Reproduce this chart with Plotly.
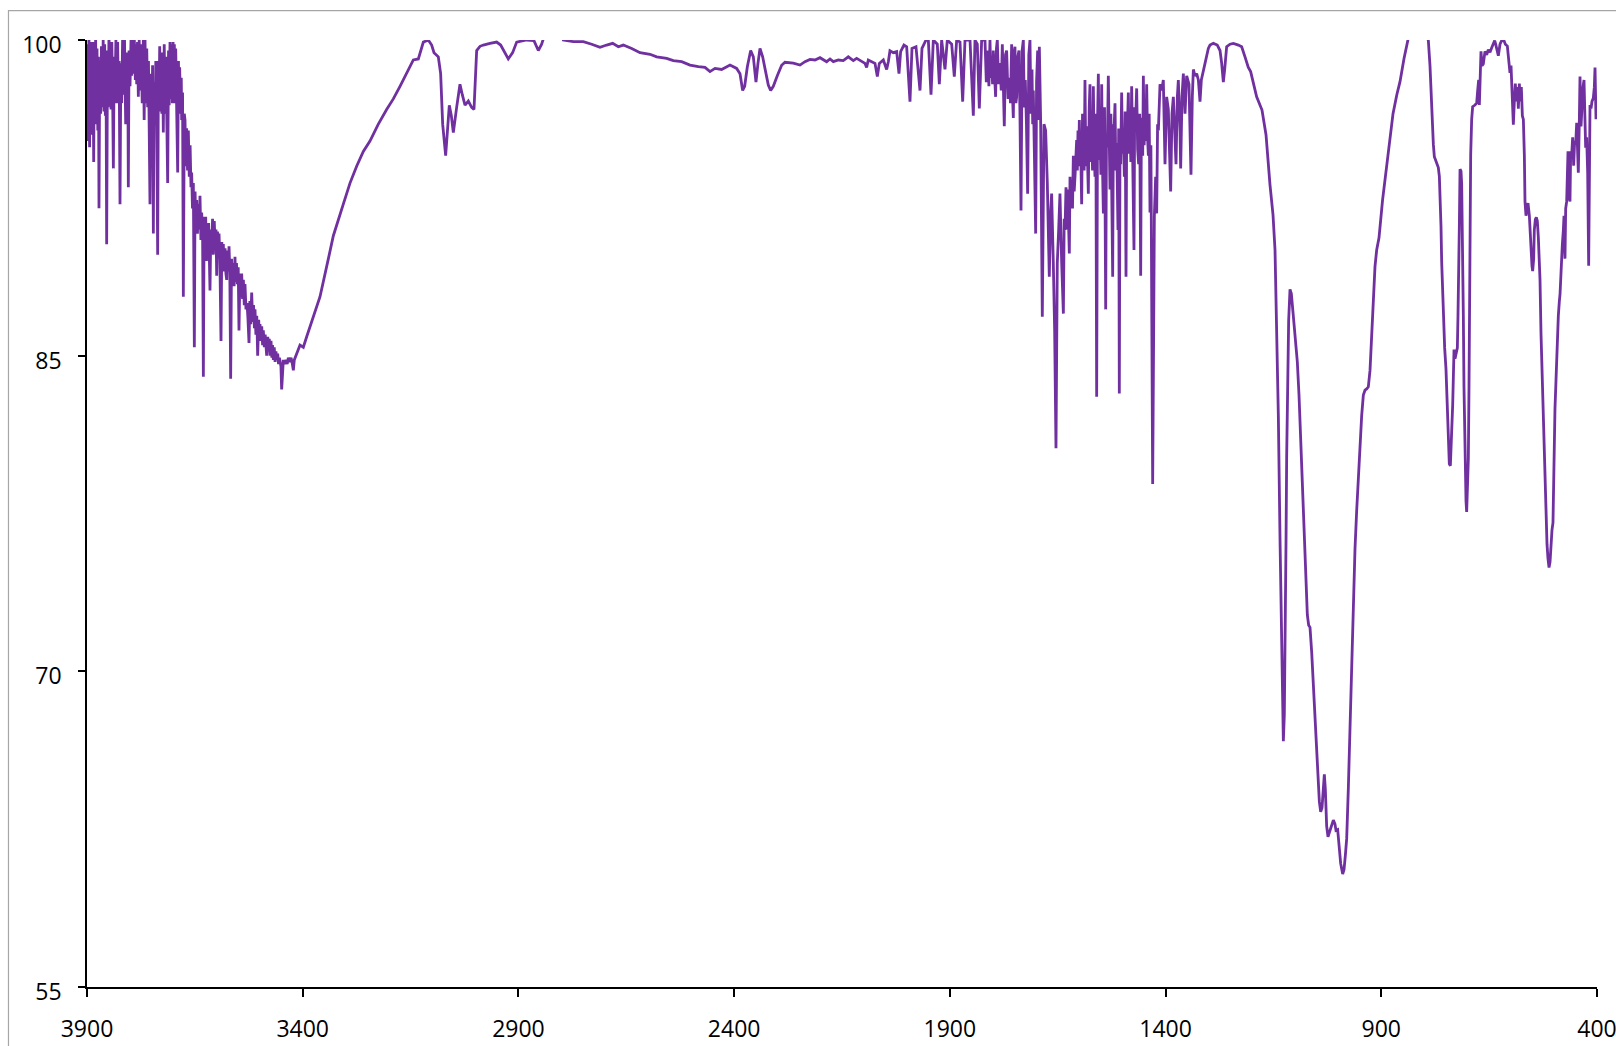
import plotly.graph_objects as go

# IR transmission spectrum, (wavenumber cm-1, transmittance %) pairs by region

# O-H stretch region, noisy band
oh_region = [
    (3900, 96.0), (3898.5, 99.8), (3897, 95.2), (3895.5, 100.2), (3894, 94.9), (3892.5, 99.5),
    (3891, 95.8), (3889.5, 99.9), (3888, 95.5), (3886, 99.2), (3884.5, 94.2), (3883, 99.9),
    (3881.4, 96.0), (3880, 100.1), (3878.5, 96.3), (3876.8, 99.6), (3875, 95.7), (3873.5, 99.2),
    (3872.2, 92.0), (3870.5, 99.0), (3868.3, 96.5), (3866.5, 99.7), (3864.4, 96.8), (3862.5, 100.0),
    (3860.6, 96.6), (3859, 99.8), (3857.5, 96.4), (3856, 99.3), (3854.4, 90.3), (3852.5, 99.5),
    (3851, 96.8), (3849, 100.3), (3847, 96.9), (3845.5, 99.6), (3844.3, 96.7), (3842.5, 99.9),
    (3840.5, 97.2), (3838.9, 93.9), (3837, 99.2), (3835.1, 97.5), (3833, 100.0), (3831.2, 97.0),
    (3829, 99.9), (3827.3, 97.3), (3825.5, 99.0), (3823.5, 92.2), (3821.5, 98.9), (3819.6, 97.0),
    (3817.5, 100.0), (3815, 97.4), (3813, 100.0), (3810.3, 96.0), (3808.8, 99.4), (3807.3, 97.4),
    (3805.5, 99.0), (3804.2, 93.0), (3802.5, 99.5), (3800.3, 97.8), (3798, 100.0), (3796.5, 98.3),
    (3794.9, 100.0), (3792.5, 98.4), (3790.3, 100.0), (3788, 98.1), (3786.5, 99.8), (3784.8, 97.9),
    (3783, 99.9), (3781, 97.3), (3779, 100.0), (3777, 97.6), (3774.8, 99.8), (3772, 97.0),
    (3769.4, 100.0), (3767.5, 96.2), (3765.5, 100.0), (3763.5, 97.0), (3761.5, 99.6), (3759.4, 96.8),
    (3757.5, 99.0), (3756, 96.5), (3754, 92.2), (3752, 98.4), (3750.1, 95.7), (3748, 98.8),
    (3746.2, 90.8), (3744.5, 98.0), (3742.4, 96.0), (3740.5, 99.0), (3738.5, 96.2), (3736.2, 89.8),
    (3734.5, 99.0), (3733.1, 96.8), (3731.5, 99.7), (3730, 96.6), (3728.4, 99.0), (3726.5, 96.5),
    (3725, 99.4), (3723.1, 95.6), (3721, 99.8), (3719.2, 96.5), (3717, 99.2), (3715, 96.2),
    (3713, 93.2), (3711, 99.5), (3709.5, 96.9), (3707.6, 99.9), (3706, 97.2), (3704, 99.8),
    (3702.2, 97.0), (3700.5, 99.9), (3699.1, 97.4), (3697.5, 99.8), (3696, 97.0), (3694.4, 99.6),
    (3692, 96.7), (3689.8, 93.7), (3688, 99.0), (3686.5, 96.9), (3685.2, 98.7), (3683, 96.5),
    (3681.5, 98.2), (3680.6, 96.2), (3678.5, 97.5), (3676.7, 87.8), (3674.5, 96.5), (3672.8, 96.2),
    (3671, 94.0), (3669, 95.8), (3667, 93.8), (3665.1, 95.7), (3663, 93.5), (3661, 95.0),
    (3659, 93.0), (3657.4, 93.7), (3655.5, 92.0), (3653.5, 93.2), (3651.2, 85.4), (3649.5, 92.8),
    (3647.5, 91.0), (3645.8, 92.4), (3644, 90.8), (3642, 92.2), (3640, 91.0), (3638.1, 92.6),
    (3636, 90.5), (3634.2, 91.8), (3632, 90.6), (3630.3, 84.0), (3628.5, 91.6), (3626.5, 90.0),
    (3624.9, 91.6), (3623, 89.5), (3621.5, 91.2), (3620.3, 90.2), (3618, 91.3), (3616.5, 89.4),
    (3614.9, 88.1), (3613, 91.0), (3611, 90.0), (3609, 91.5), (3607.1, 89.8), (3605, 91.4),
    (3603, 90.2), (3601, 91.0), (3599.4, 88.8), (3597.5, 90.9), (3596, 89.8), (3594, 90.8),
    (3592, 89.6), (3589.4, 85.7), (3587.5, 90.4), (3586, 89.3), (3584, 90.3), (3582, 89.0),
    (3580, 90.1), (3578, 88.9), (3576.2, 88.6), (3574.5, 90.0), (3572.5, 89.0), (3570.8, 90.2),
    (3569, 89.0), (3567, 83.9), (3565, 89.6), (3563, 88.6), (3560.8, 89.4), (3559, 88.3),
    (3557, 89.7), (3555.4, 88.5), (3553.5, 89.4), (3551.5, 88.4), (3549.5, 89.2), (3547.7, 86.2),
    (3545.5, 88.9), (3543.5, 87.8), (3541.5, 88.9), (3539.5, 87.7), (3537.5, 88.6), (3535.5, 87.4),
    (3533.8, 88.4), (3531.5, 87.2), (3529.1, 87.5), (3527, 86.8), (3524.5, 85.6), (3522.5, 87.6),
    (3520.5, 86.5), (3518.3, 88.0), (3516, 86.6), (3514, 87.4), (3512, 86.3), (3510.6, 87.2),
    (3508.5, 86.0), (3506.5, 86.9), (3504.4, 85.0), (3502, 86.7), (3500.5, 85.8), (3499, 86.5),
    (3497, 85.7), (3495, 86.4), (3493, 85.5), (3491.3, 86.2), (3489, 85.4), (3487, 86.0),
    (3485, 85.3), (3483.5, 85.0), (3481, 85.9), (3479, 85.2), (3477.5, 85.8), (3475.8, 85.0),
    (3473.5, 85.7), (3471.5, 84.9), (3470, 85.5), (3468.1, 84.8), (3466, 85.4), (3464, 84.7),
    (3462, 85.2), (3460.4, 84.8), (3458, 85.1), (3456, 84.6), (3454, 84.9), (3452.6, 84.7),
    (3450.5, 84.5), (3448.8, 83.4), (3446.5, 84.6), (3444.9, 84.8), (3442, 84.6), (3439, 84.8),
    (3436, 84.6), (3433.3, 84.9), (3430, 84.7), (3427, 84.9), (3424, 84.6), (3421.7, 84.3),
    (3419.5, 84.8), (3417.9, 84.9), (3414, 85.1), (3410, 85.3), (3406.3, 85.5),
]

# broad O-H shoulder and C-H stretches
ch_region = [
    (3398.6, 85.4), (3390.8, 85.9), (3375.4, 86.9), (3359.9, 87.8), (3340.6, 89.6),
    (3329, 90.7), (3305.9, 92.2), (3290.4, 93.2), (3275, 94.0), (3259.5, 94.7),
    (3244.1, 95.2), (3224.7, 96.0), (3205.5, 96.7), (3190, 97.2), (3174.5, 97.8),
    (3159.1, 98.4), (3143.6, 99.05), (3132, 99.1), (3120.4, 99.9), (3108.9, 100.0),
    (3101.1, 99.76), (3095.7, 99.4), (3085.7, 99.2), (3080.3, 98.4), (3075.6, 96.0),
    (3068.7, 94.5), (3064, 95.7), (3060.2, 96.9), (3055.5, 96.4), (3050.9, 95.6),
    (3043.2, 96.8), (3035.5, 97.9), (3030.1, 97.4), (3023.8, 96.9), (3016.1, 97.1),
    (3008.4, 96.8), (3003, 96.7), (2996.8, 99.5), (2989.1, 99.7), (2981.4, 99.76),
    (2965.9, 99.84), (2950.5, 99.9), (2941.2, 99.76), (2931.2, 99.4), (2923.5, 99.1),
    (2913.4, 99.4), (2904.1, 99.9), (2880.9, 100.0), (2864, 99.97), (2853.9, 99.5),
    (2846.2, 99.8), (2838.5, 100.3), (2834.6, 100.8), (2815, 101.5),
]

# quiet mid range with CO2 doublet
mid_region = [
    (2795.9, 100.0), (2772.7, 99.92), (2749.6, 99.92), (2730.2, 99.8), (2710.9, 99.65),
    (2695.5, 99.76), (2681.6, 99.84), (2668.4, 99.68), (2656.9, 99.76), (2637.5, 99.6),
    (2618.2, 99.4), (2595, 99.32), (2579.6, 99.2), (2556.4, 99.13), (2541, 99.02),
    (2521.6, 98.97), (2502.3, 98.81), (2483, 98.73), (2467.6, 98.7), (2456, 98.5),
    (2444.4, 98.65), (2429, 98.6), (2409.6, 98.81), (2394.2, 98.65), (2386.4, 98.4),
    (2380.3, 97.6), (2375.6, 97.8), (2369.4, 98.73), (2361.7, 99.5), (2355.5, 99.2),
    (2349.4, 98.0), (2344.7, 98.9), (2340.1, 99.6), (2333.9, 99.2), (2327, 98.4),
    (2320.8, 97.86), (2315.4, 97.6), (2309.2, 97.8), (2300, 98.3), (2289.9, 98.8),
    (2282.2, 98.94), (2262.8, 98.9), (2247.4, 98.81), (2235.8, 98.97), (2224.2, 99.08),
    (2212.6, 99.05), (2201, 99.16), (2193.3, 99.05), (2185.6, 98.97), (2177.8, 99.1),
    (2170.1, 98.97), (2158.5, 99.05), (2147, 99.02), (2135.4, 99.2), (2123.8, 99.02),
    (2116, 99.13), (2104.4, 98.97), (2096.7, 98.89), (2092.9, 98.7), (2089, 99.05),
    (2081.3, 98.97), (2073.5, 98.89), (2068.1, 98.26), (2063.5, 98.89), (2054.2, 99.05),
    (2046.5, 98.6), (2042.6, 98.97), (2038.8, 99.49), (2031, 99.4), (2023.3, 99.45),
    (2017.9, 98.4), (2014.1, 99.45), (2006.4, 99.76), (2000.1, 99.68), (1992.4, 97.07),
    (1987.8, 99.6), (1978.5, 99.68), (1969.2, 97.6), (1964.6, 99.6), (1955.3, 100.0),
]

# water vapour lines, 1950-1645
vapour_region = [
    (1949.9, 100.0), (1943.7, 97.4), (1938.3, 100.0), (1929.1, 99.8), (1924.4, 97.9),
    (1919.0, 100.0), (1911.3, 98.6), (1905.9, 100.0), (1895.8, 99.8), (1889.7, 98.26),
    (1884.2, 100.0), (1876.5, 99.9), (1870.3, 97.07), (1864.9, 100.0), (1853.3, 100.0),
    (1845.6, 96.4), (1841.8, 100.0), (1836.4, 99.8), (1831.7, 96.75), (1826.3, 100.0),
    (1818.6, 100.0), (1815.5, 98.0), (1812.4, 99.5), (1809.5, 97.8), (1807, 100.0),
    (1805, 98.2), (1803.1, 99.05), (1801, 97.9), (1799.3, 99.5), (1796.5, 98.3),
    (1793.9, 97.3), (1792, 99.6), (1790, 100.0), (1787, 97.9), (1783.8, 98.9),
    (1781, 97.6), (1778.4, 99.8), (1776, 97.8), (1773.8, 95.9), (1771, 99.3),
    (1768.4, 99.5), (1765, 97.2), (1762.2, 98.2), (1759.5, 97.0), (1756.8, 99.8),
    (1755, 97.5), (1752.9, 96.3), (1751, 99.4), (1749.1, 99.68), (1747, 97.0),
    (1745.2, 97.3), (1742.5, 99.2), (1739.8, 99.5), (1737.5, 96.5), (1735.1, 91.9),
    (1732.5, 99.5), (1729.7, 100.0), (1727.5, 96.8), (1725.1, 98.1), (1722.5, 96.0),
    (1719.7, 92.7), (1717, 99.3), (1714.3, 100.0), (1712, 96.5), (1709.6, 98.6),
    (1708, 96.0), (1706.6, 97.6), (1704, 94.5), (1701.1, 90.8), (1699, 98.0),
    (1696.5, 99.5), (1694.5, 96.2), (1692.6, 99.68), (1689.6, 96.2), (1685.7, 86.85),
    (1681.8, 96.0), (1678, 95.7), (1674.1, 93.2), (1669.5, 88.75), (1666.4, 91.8),
    (1664.1, 92.7), (1660.2, 89.4), (1657.1, 86.2), (1654.0, 80.6), (1651, 89.4),
    (1647.8, 90.97), (1644.8, 92.7),
]

# water vapour lines, 1645-1190
bend_region = [
    (1640.8, 89.4), (1636.9, 87.0), (1635, 91.5), (1633.1, 90.97), (1630.8, 93.0),
    (1628.8, 91.0), (1626.9, 92.9), (1625, 91.2), (1623.1, 89.86), (1621.5, 93.5),
    (1620, 92.6), (1617.6, 93.2), (1615.7, 92.0), (1613.8, 94.5), (1611.8, 92.8),
    (1609.9, 93.5), (1608, 95.0), (1606.1, 95.25), (1604.5, 93.8), (1603.0, 95.7),
    (1601.5, 94.0), (1599.9, 96.2), (1598.3, 94.5), (1596.8, 94.9), (1594.5, 92.2),
    (1592.5, 96.5), (1590.6, 95.7), (1588.7, 93.8), (1586.8, 98.1), (1584.8, 94.0),
    (1582.9, 95.9), (1581, 94.5), (1579, 92.7), (1577, 96.8), (1575.2, 97.9),
    (1573.2, 94.2), (1571.3, 95.7), (1569.3, 93.8), (1567.4, 97.8), (1565.5, 94.8),
    (1563.6, 93.5), (1561.6, 96.5), (1559.7, 83.05), (1557.8, 96.0), (1555.8, 98.4),
    (1554, 94.3), (1552, 95.7), (1550, 93.6), (1548.1, 97.9), (1546.2, 94.0),
    (1544.2, 91.76), (1541.5, 96.8), (1538.8, 87.2), (1537, 95.5), (1535, 94.9),
    (1532.7, 98.3), (1530.7, 94.4), (1528.8, 92.9), (1526.8, 96.5), (1524.9, 92.6),
    (1522.6, 88.75), (1521, 96.0), (1519.5, 95.7), (1517.2, 96.99), (1515.3, 93.8),
    (1513.3, 95.1), (1511.8, 93.5), (1510.3, 90.97), (1508.7, 95.8), (1507.2, 83.2),
    (1505.6, 95.5), (1504.1, 94.1), (1501.8, 97.5), (1499.8, 94.6), (1497.9, 95.7),
    (1495.6, 93.5), (1493.6, 96.6), (1491.7, 88.75), (1490, 96.2), (1488.6, 95.7),
    (1486.3, 97.5), (1484.4, 94.6), (1482.4, 95.7), (1480.5, 94.2), (1478.6, 97.8),
    (1476.7, 94.8), (1474.7, 94.1), (1473.2, 90.02), (1471.6, 96.8), (1470.1, 95.7),
    (1467, 97.7), (1464.7, 94.8), (1462.4, 94.1), (1460, 96.5), (1457.7, 88.8),
    (1456, 96.3), (1454.6, 95.7), (1453, 94.5), (1451.5, 98.3), (1449.6, 95.0),
    (1447.7, 96.5), (1445.8, 95.2), (1443.8, 97.9), (1441.8, 95.4), (1439.9, 94.5),
    (1438, 96.5), (1436.1, 91.8), (1434, 95.0), (1432.2, 87.8), (1429.9, 78.9),
    (1427.6, 86.2), (1426.0, 91.6), (1423, 93.5), (1420.6, 91.76), (1418.5, 96.0),
    (1416.7, 95.7), (1412.9, 97.9), (1409, 97.6), (1405.2, 98.1), (1401.3, 94.1),
    (1397.5, 97.3), (1393.6, 96.7), (1388.2, 92.8), (1385.1, 96.5), (1382.0, 97.3),
    (1378.1, 95.4), (1375.8, 94.1), (1372.7, 97.3), (1370.4, 98.1), (1366.5, 95.7),
    (1365, 93.9), (1361.9, 97.3), (1358.8, 98.4), (1354.9, 96.5), (1351.1, 98.3),
    (1345.7, 97.9), (1341.1, 93.6), (1338, 97.3), (1335.6, 98.6), (1331.8, 98.3),
    (1327.9, 98.4), (1324.0, 98.1), (1320.2, 97.07), (1317.1, 98.1), (1314, 98.4),
    (1308.6, 98.9), (1304.7, 99.2), (1300.9, 99.6), (1297, 99.76), (1289.3, 99.84),
    (1280.2, 99.76), (1273.8, 99.5), (1270, 98.9), (1266.1, 98.0), (1263, 98.6),
    (1258.4, 99.68), (1250.6, 99.8), (1242.9, 99.84), (1231.3, 99.76), (1223.6, 99.68),
    (1215.9, 99.2), (1208.2, 98.7), (1202.8, 98.5), (1196.6, 97.94), (1188.9, 97.3),
]

# strong Si-O / C-O band system
band_region = [
    (1176.5, 96.67), (1167.2, 95.5), (1157.9, 93.1), (1151, 91.7),
    (1146.3, 90.02), (1142.5, 86.08), (1138.6, 82.14), (1134.7, 76.23), (1132.4, 73.27),
    (1130.1, 69.34), (1127.0, 66.68), (1124.7, 67.96), (1123.2, 70.32), (1120.8, 76.23),
    (1119.3, 80.17), (1117.0, 84.11), (1114.7, 86.67), (1111.6, 88.15), (1108.5, 87.95),
    (1103.8, 86.87), (1099.2, 85.69), (1094.6, 84.7), (1090.7, 83.13), (1086.8, 81.16),
    (1083.0, 79.19), (1079.1, 77.22), (1075.3, 74.85), (1071.4, 72.68), (1068.3, 72.19),
    (1065.2, 72.09), (1061.3, 70.9), (1057.5, 69.34), (1053.6, 67.56), (1049.8, 65.79),
    (1045.9, 64.41), (1043.6, 63.82), (1040.5, 63.33), (1037.4, 63.52), (1034.3, 64.41),
    (1032.0, 65.1), (1029.7, 64.41), (1026.6, 62.64), (1023.5, 62.14), (1018.9, 62.44),
    (1014.2, 62.83), (1011.1, 62.93), (1007.3, 62.74), (1005.0, 62.44), (1001.1, 62.48),
    (998.0, 61.85), (994.1, 60.86), (989.5, 60.37), (986.4, 60.57), (983.3, 61.26),
    (980.2, 62.05), (976.4, 64.41), (972.5, 67.37), (968.6, 70.32), (964.8, 73.27),
    (960.9, 75.84), (957.1, 77.61), (953.2, 79.38), (949.3, 80.76), (945.5, 82.14),
    (941.6, 83.13), (937.7, 83.36), (933.9, 83.42), (930.0, 83.52), (926.1, 84.31),
    (922.3, 86.08), (918.4, 87.85), (914.6, 89.23), (910.7, 90.02), (905.3, 90.6),
    (897, 92.4), (889, 93.8), (880, 95.3), (872.8, 96.5), (864, 97.4), (856.6, 98.02),
]

# low-wavenumber fingerprint bands
low_region = [
    (847.3, 99.12), (839.6, 99.8), (833.4, 100.475), (814.1, 101.5), (794.8, 100.3),
    (790.9, 99.97), (787.1, 98.78), (784.0, 97.08), (781.7, 96.23), (779.3, 95.04),
    (777.0, 94.45), (771.6, 94.11), (767.8, 93.94), (765.4, 93.52), (763.9, 92.84),
    (761.6, 91.14), (760.0, 89.44), (757.7, 87.75), (756.2, 86.56), (753.1, 85.37),
    (750.0, 84.35), (747.7, 83.0), (746.1, 81.81), (743.8, 80.45), (742.3, 79.86),
    (739.9, 79.77), (737.6, 80.62), (736.1, 81.81), (734.5, 82.66), (733.0, 84.18),
    (731.4, 85.29), (729.1, 84.86), (726.8, 85.03), (723.7, 85.37), (722.2, 86.9),
    (720.6, 88.6), (719.1, 91.14), (717.5, 93.86), (715.2, 93.77), (713.7, 93.18),
    (712.1, 91.14), (709.8, 86.9), (708.3, 83.5), (706.0, 80.11), (703.6, 78.08),
    (702.1, 77.57), (700.5, 78.41), (698.2, 80.11), (696.7, 83.5), (695.9, 86.9),
    (694.4, 91.14), (692.8, 94.54), (690.5, 96.23), (688.2, 96.83), (682.8, 96.91),
    (678.9, 97.0), (676.6, 97.59), (674.3, 98.1), (672.7, 96.91), (671.2, 98.27),
    (668.9, 99.46), (666.5, 98.78), (663.5, 98.86), (659.6, 99.46), (655.7, 99.29),
    (651.9, 99.54), (648.0, 99.42), (644.1, 99.63), (640.3, 99.8), (637.2, 99.97),
    (634.9, 99.8), (632.5, 99.54), (628.7, 99.25), (624.8, 99.8), (621.0, 99.97),
    (615.6, 99.97), (612.5, 99.8), (607.8, 99.71), (604.7, 99.12), (601.7, 98.44),
    (599.3, 98.78), (597.0, 97.76), (593.9, 95.98), (591.6, 97.08), (589.3, 97.93),
    (586.9, 97.08), (584.6, 97.76), (582.3, 96.74), (580.0, 97.93), (577.7, 97.08),
    (575.4, 97.76), (573.0, 96.4), (570.7, 96.23), (568.4, 94.54), (566.9, 92.33),
    (564.6, 91.65), (562.2, 91.99), (559.9, 92.25), (556.8, 91.65), (554.5, 90.63),
    (553.0, 89.95), (550.7, 89.27), (549.1, 89.02), (546.8, 89.61), (545.3, 90.97),
    (542.9, 91.48), (540.6, 91.57), (538.3, 91.4), (536.0, 90.63), (532.1, 88.6),
    (529.8, 86.05), (527.5, 84.35), (525.2, 82.32), (522.9, 80.11), (520.5, 78.41),
    (518.2, 77.06), (515.9, 76.04), (513.6, 75.36), (511.2, 74.93), (508.9, 75.19),
    (506.6, 76.38), (504.3, 76.72), (502.0, 77.06), (499.7, 80.11), (497.4, 82.49),
    (495.0, 83.84), (492.7, 85.54), (489.6, 86.9), (487.3, 87.58), (485.7, 87.92),
    (483.4, 88.94), (481.9, 89.95), (480.3, 90.29), (478.0, 90.97), (476.5, 91.65),
    (474.2, 89.61), (472.6, 91.99), (470.3, 92.33), (468.8, 93.35), (467.2, 94.71),
    (464.9, 92.5), (462.6, 92.33), (461.0, 94.71), (458.7, 94.54), (456.4, 95.38),
    (454.1, 94.03), (451.8, 95.21), (449.4, 95.04), (447.1, 96.06), (444.8, 94.03),
    (443.3, 93.69), (440.9, 96.23), (439.4, 98.27), (437.1, 95.89), (434.8, 97.08),
    (432.4, 97.76), (430.1, 98.1), (427.8, 96.06), (426.3, 94.88), (424.0, 95.38),
    (421.6, 93.69), (419.3, 89.27), (417.8, 93.69), (416.2, 96.91), (413.9, 96.74),
    (411.6, 97.08), (408.5, 97.25), (406.2, 97.76), (404.6, 98.69), (402.3, 96.23),
]

x_ticks = [3900, 3400, 2900, 2400, 1900, 1400, 900, 400]
y_ticks = [55, 70, 85, 100]

spectrum = oh_region + ch_region + mid_region + vapour_region + bend_region + band_region + low_region
wavenumber = [p[0] for p in spectrum]
transmittance = [p[1] for p in spectrum]

fig = go.Figure()
fig.add_trace(go.Scatter(
    x=wavenumber, y=transmittance, mode="lines",
    line=dict(color="#7030A0", width=2.8),
    showlegend=False, hoverinfo="skip",
))

tick_font = dict(family="Open Sans, Lato, sans-serif", size=23, color="#000000")

fig.update_layout(
    width=1616, height=1046, autosize=False,
    margin=dict(l=87, r=19, t=40, b=59, pad=0),
    paper_bgcolor="white", plot_bgcolor="white",
    xaxis=dict(
        range=[3900, 400], tickmode="array", tickvals=x_ticks,
        ticktext=[str(v) for v in x_ticks],
        showgrid=False, zeroline=False, showline=True, automargin=False,
        linecolor="#000000", linewidth=1.6,
        ticks="outside", ticklen=8, tickwidth=1.6, tickcolor="#000000",
        tickfont=tick_font, ticklabelstandoff=13, ticklabeloverflow="allow",
    ),
    yaxis=dict(
        range=[55, 100], tickmode="array", tickvals=y_ticks,
        ticktext=[str(v) for v in y_ticks],
        showgrid=False, zeroline=False, showline=True, automargin=False,
        linecolor="#000000", linewidth=1.6,
        ticks="outside", ticklen=7, tickwidth=1.6, tickcolor="#000000",
        tickfont=tick_font, ticklabelstandoff=12, ticklabelshift=5,
        ticklabeloverflow="allow",
    ),
    shapes=[dict(
        type="rect", xref="paper", yref="paper",
        x0=-0.052, x1=1.03, y0=-0.09, y1=1.0311,
        line=dict(color="#A6A6A6", width=1.2), fillcolor="rgba(0,0,0,0)",
        layer="below",
    )],
)

fig.write_html("out.html")
